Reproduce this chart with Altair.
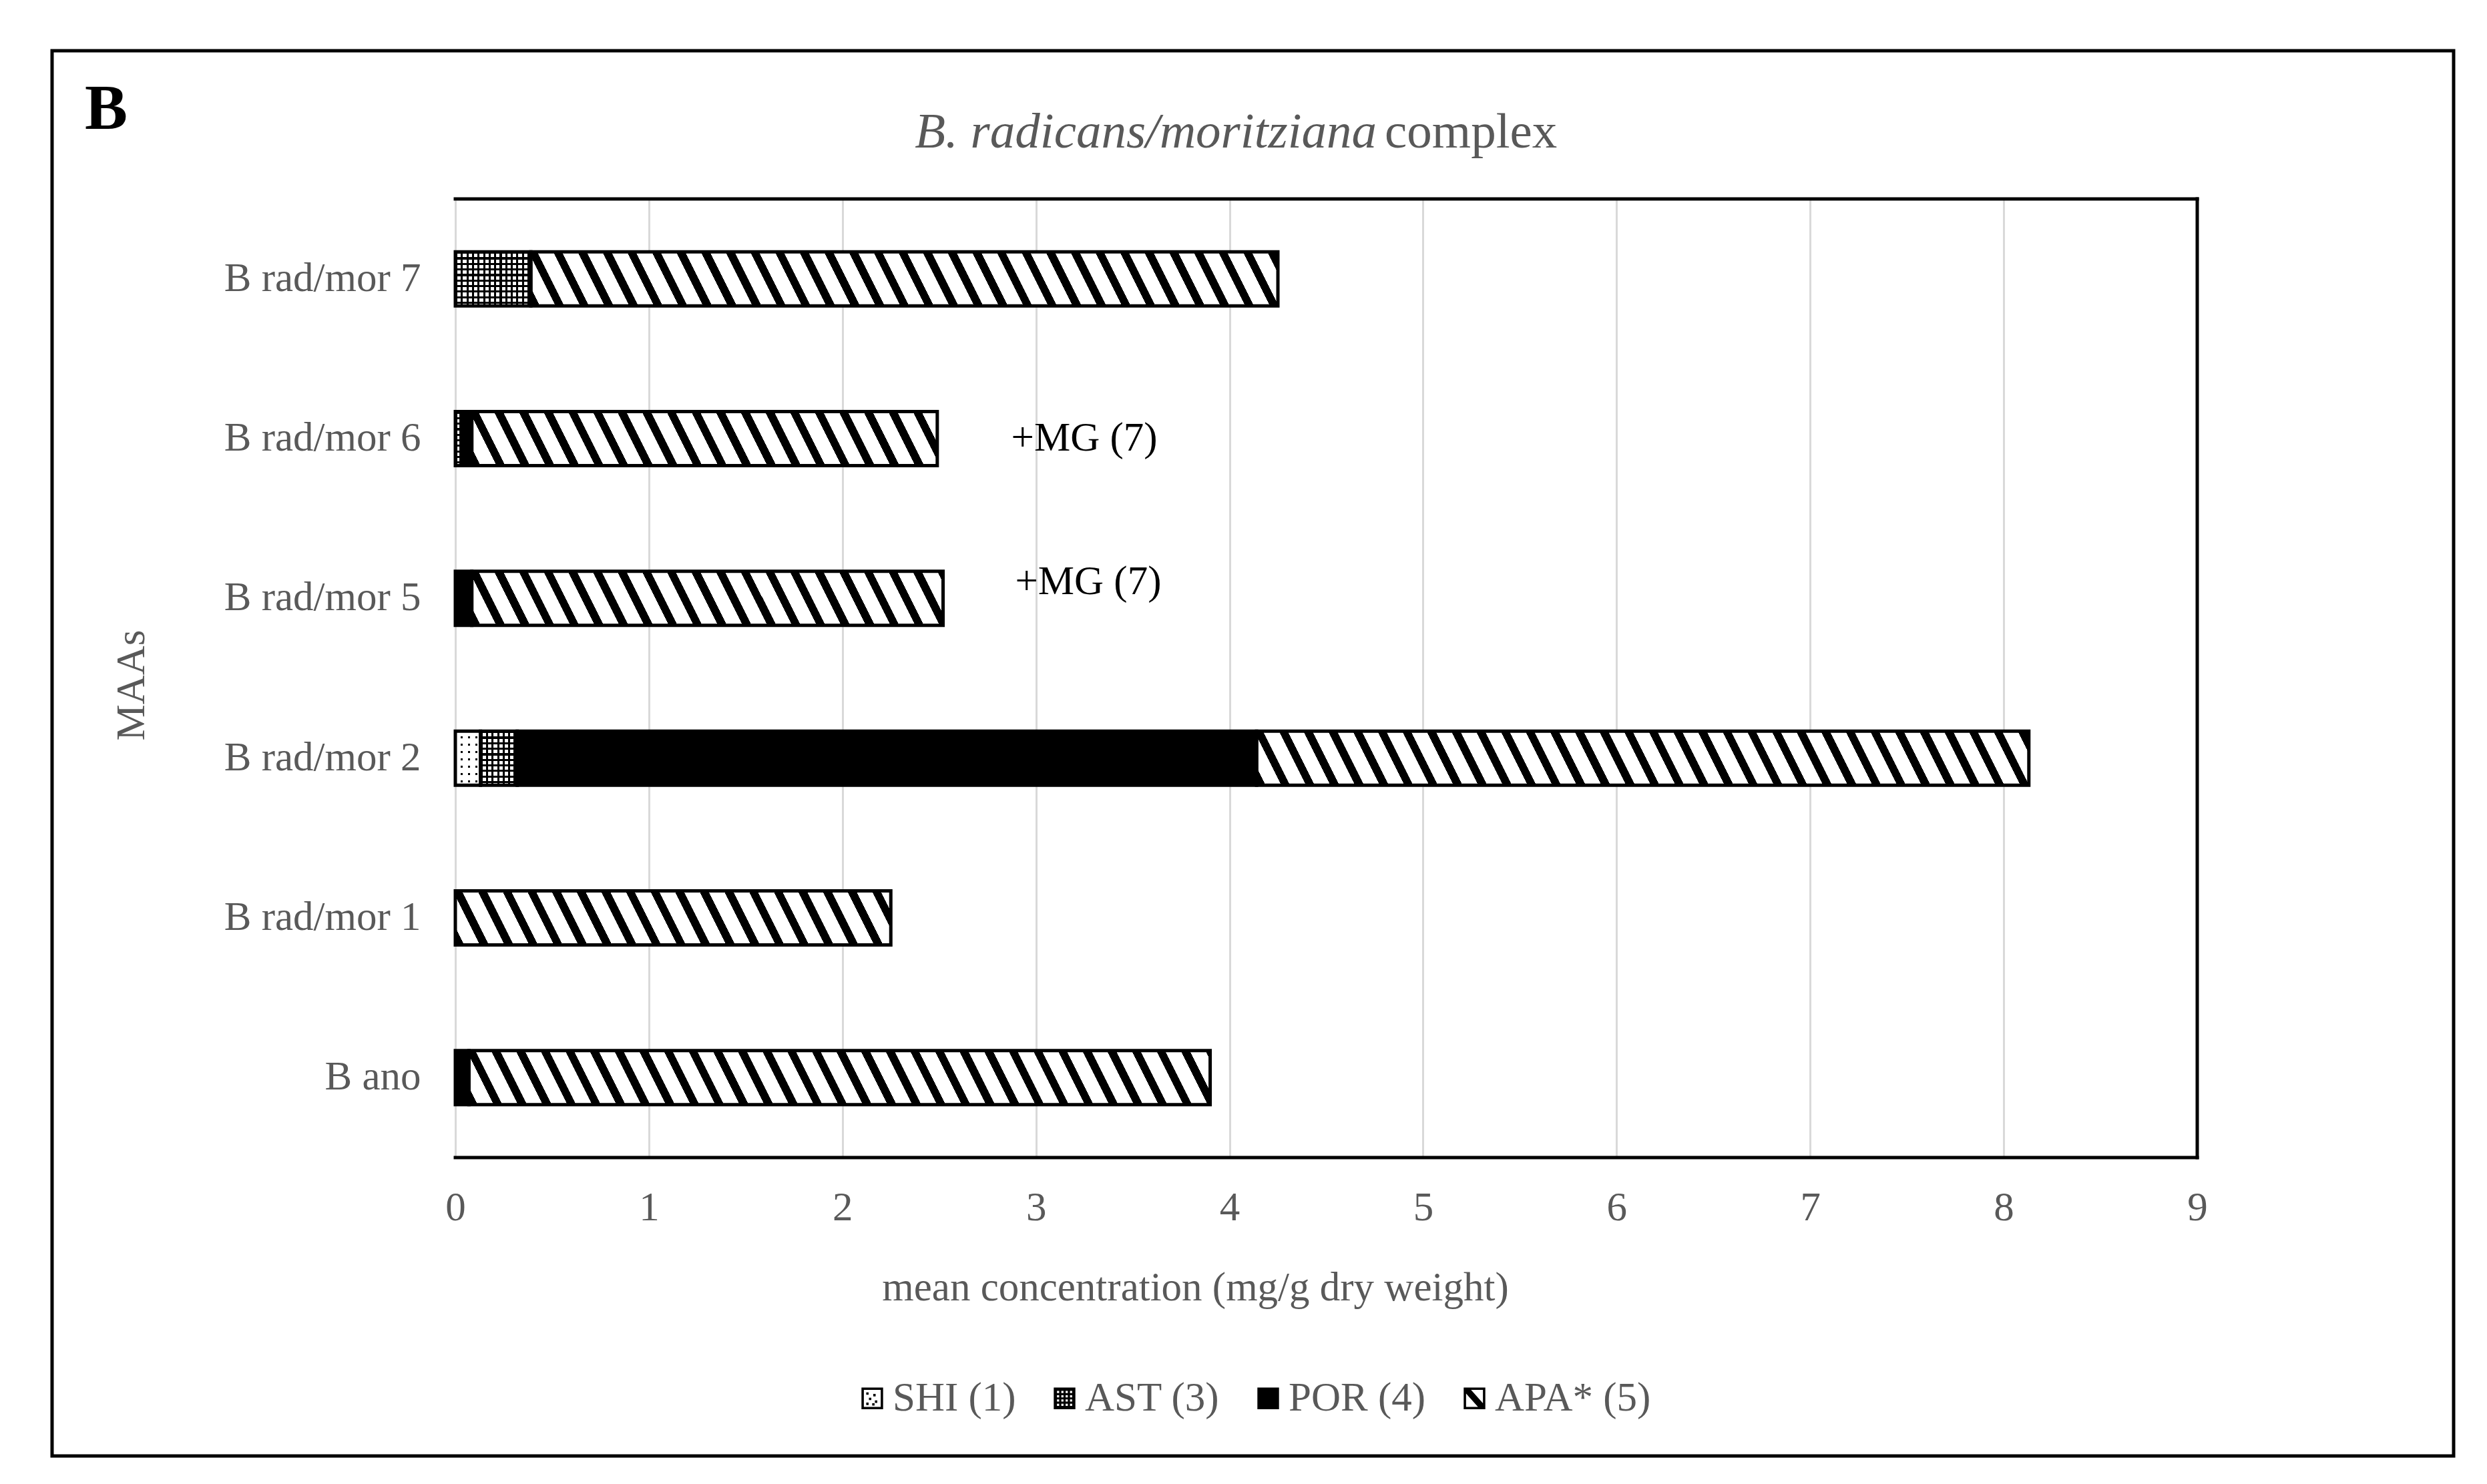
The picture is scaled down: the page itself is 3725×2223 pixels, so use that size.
import math
import altair as alt
import pandas as pd

# ---------------- data ----------------
samples = ["B ano", "B rad/mor 1", "B rad/mor 2", "B rad/mor 5", "B rad/mor 6", "B rad/mor 7"]
components = ["SHI (1)", "AST (3)", "POR (4)", "APA* (5)"]
shi = [0.0, 0.0, 0.13, 0.0, 0.0, 0.0]
ast = [0.0, 0.0, 0.19, 0.0, 0.03, 0.39]
por = [0.07, 0.0, 3.82, 0.085, 0.055, 0.0]
apa = [3.83, 2.25, 3.99, 2.435, 2.405, 3.86]
x_ticks = [0, 1, 2, 3, 4, 5, 6, 7, 8, 9]

mg_samples = ["B rad/mor 6", "B rad/mor 5"]
mg_x = [3.25, 3.27]
mg_labels = ["+MG (7)", "+MG (7)"]

panel_label = ["B"]
title_italic = ["B. radicans/moritziana"]
title_regular = ["complex"]
x_title = "mean concentration (mg/g dry weight)"
y_title = "MAAs"

# ---------------- layout / style ----------------
W, H = 2609, 1436
PAD = {"left": 674, "top": 290, "right": 426, "bottom": 481}
FONT = "Liberation Serif"
GRAY = "#595959"
FS = 61
P_INNER = 0.6616
P_OUTER = P_INNER / 2
BAR_H = H / len(samples) * (1 - P_INNER)
PX_PER_UNIT = W / 9.0

BLACK, WHITE, CLEAR = "#000000", "#ffffff", "rgba(255,255,255,0)"
SLOPE = 2.0          # stripe direction (1, SLOPE) in screen space
DIAG_PERIOD = 33.0   # perpendicular stripe period (px)
DIAG_FRAC = 0.36


def stripe_stops(n, frac, c_on, c_off):
    stops = []
    k = 0
    while k < n:
        a = round(k / n, 6)
        b = round(min((k + frac) / n, 1.0), 6)
        c = round(min((k + 1) / n, 1.0), 6)
        stops.append({"offset": a, "color": c_on})
        stops.append({"offset": b, "color": c_on})
        if b < 1.0:
            stops.append({"offset": b, "color": c_off})
            stops.append({"offset": c, "color": c_off})
        k += 1
    return stops


def diag_fill(w, h):
    s = SLOPE
    denom = s * w + h
    a, b = s / denom, -1.0 / denom
    q = a * a * w * w + b * b * h * h
    dx, dy = a * w / q, b * h / q
    n = (denom / math.sqrt(s * s + 1)) / DIAG_PERIOD
    return {"gradient": "linear", "x1": 0, "y1": 1, "x2": round(dx, 6), "y2": round(1 + dy, 6),
            "stops": stripe_stops(n, DIAG_FRAC, BLACK, WHITE)}


def vstripes(w, period, frac, on, off):
    return {"gradient": "linear", "x1": 0, "y1": 0, "x2": 1, "y2": 0,
            "stops": stripe_stops(max(w / period, 1.0), frac, on, off)}


def hstripes(h, period, frac, on, off):
    return {"gradient": "linear", "x1": 0, "y1": 0, "x2": 0, "y2": 1,
            "stops": stripe_stops(max(h / period, 1.0), frac, on, off)}


# ---------------- segments table ----------------
rows = []
for i, s in enumerate(samples):
    start = 0.0
    for comp, vals in zip(components, [shi, ast, por, apa]):
        v = vals[i]
        if v > 0:
            rows.append({"sample": s, "comp": comp, "x0": start, "x1": start + v, "seg": len(rows)})
            start += v
segs = pd.DataFrame(rows)

# ---------------- encodings ----------------
x_scale = alt.Scale(domain=[0, 9], nice=False, zero=True)
x_axis = alt.Axis(values=x_ticks, format="d", title=x_title, grid=True, gridColor="#d9d9d9",
                  gridWidth=3, ticks=False, domain=False, labelFlush=False,
                  labelFont=FONT, labelFontSize=FS, labelColor=GRAY, labelPadding=45,
                  titleFont=FONT, titleFontSize=FS, titleFontWeight="normal", titleColor=GRAY,
                  titleX=1108, titleY=195, titleBaseline="middle", titleAlign="center")
y_scale = alt.Scale(domain=samples[::-1], paddingInner=P_INNER, paddingOuter=P_OUTER)
y_axis = alt.Axis(title=y_title, ticks=False, domain=False, grid=False,
                  labelFont=FONT, labelFontSize=FS, labelColor=GRAY, labelPadding=52,
                  labelLimit=1000,
                  titleFont=FONT, titleFontSize=FS, titleFontWeight="normal", titleColor=GRAY,
                  titleX=-485, titleY=728, titleAngle=270, titleBaseline="middle",
                  titleAlign="center")


def X(field):
    return alt.X(field, type="quantitative", scale=x_scale, axis=x_axis)


Y = alt.Y("sample:N", scale=y_scale, axis=y_axis)
X2 = alt.X2("x1:Q")

base = alt.Chart(segs)


def seg_layer(seg_id, **mark_kw):
    return base.transform_filter(alt.datum.seg == seg_id).mark_bar(**mark_kw).encode(
        x=X("x0"), x2=X2, y=Y)


layers = []
for r in rows:
    w = (r["x1"] - r["x0"]) * PX_PER_UNIT
    comp = r["comp"]
    if comp == "APA* (5)":
        layers.append(seg_layer(r["seg"], fill=diag_fill(w, BAR_H)))
    elif comp == "POR (4)":
        layers.append(seg_layer(r["seg"], fill=BLACK))
    elif comp == "AST (3)":
        layers.append(seg_layer(r["seg"], fill=WHITE))
        layers.append(seg_layer(r["seg"], fill=vstripes(w, 8.3, 0.38, BLACK, CLEAR)))
        layers.append(seg_layer(r["seg"], fill=hstripes(BAR_H, 8.3, 0.38, BLACK, CLEAR)))
    elif comp == "SHI (1)":
        layers.append(seg_layer(r["seg"], fill=BLACK))
        layers.append(seg_layer(r["seg"], fill=vstripes(w, 11.0, 0.72, WHITE, CLEAR)))
        layers.append(seg_layer(r["seg"], fill=hstripes(BAR_H, 11.0, 0.72, WHITE, CLEAR)))

# outlines of every segment
layers.append(base.mark_bar(fillOpacity=0, stroke=BLACK, strokeWidth=5).encode(
    x=X("x0"), x2=X2, y=Y))

# +MG (7) annotations
mg_df = pd.DataFrame({"sample": mg_samples, "x": mg_x, "label": mg_labels})
for i, dy in enumerate([0, -24]):
    layers.append(alt.Chart(mg_df.iloc[[i]]).mark_text(
        font=FONT, fontSize=FS, color=BLACK, align="center", baseline="middle", dy=dy
    ).encode(x=X("x"), y=Y, text="label:N"))

# plot-area border (top, right, bottom)
one = pd.DataFrame({"k": [0]})
rule = alt.Chart(one).mark_rule(color=BLACK, strokeWidth=5, strokeCap="square")
layers.append(rule.encode(x=alt.value(0), x2=alt.value(W), y=alt.value(0)))
layers.append(rule.encode(x=alt.value(0), x2=alt.value(W), y=alt.value(H)))
layers.append(rule.encode(x=alt.value(W), y=alt.value(0), y2=alt.value(H)))

# outer figure frame
layers.append(alt.Chart(one).mark_rect(fillOpacity=0, stroke=BLACK, strokeWidth=5).encode(
    x=alt.value(-604), x2=alt.value(2993), y=alt.value(-222), y2=alt.value(1883)))

# titles
layers.append(alt.Chart(pd.DataFrame({"t": panel_label})).mark_text(
    font=FONT, fontSize=96, fontWeight="bold", color=BLACK, align="left", baseline="alphabetic"
).encode(x=alt.value(-555), y=alt.value(-105), text="t:N"))
layers.append(alt.Chart(pd.DataFrame({"t": title_italic})).mark_text(
    font=FONT, fontSize=75, fontStyle="italic", color=GRAY, align="right", baseline="alphabetic"
).encode(x=alt.value(1380), y=alt.value(-77), text="t:N"))
layers.append(alt.Chart(pd.DataFrame({"t": title_regular})).mark_text(
    font=FONT, fontSize=75, color=GRAY, align="left", baseline="alphabetic"
).encode(x=alt.value(1392), y=alt.value(-77), text="t:N"))

# legend (custom pattern-like symbols)
outer = "M-1,-1H1V1H-1Z"
hole = "M-0.78,-0.78V0.78H0.78V-0.78Z"


def sq(cx, cy, r, ccw=False):
    if ccw:
        return f"M{cx-r},{cy-r}V{cy+r}H{cx+r}V{cy-r}Z"
    return f"M{cx-r},{cy-r}H{cx+r}V{cy+r}H{cx-r}Z"


shi_path = outer + hole + "".join(sq(cx, cy, 0.11) for cx, cy in
                                  [(-0.45, -0.45), (0.2, -0.3), (-0.2, 0.05), (0.35, 0.3), (-0.45, 0.5), (0.1, 0.55)])
ast_path = outer + "".join(sq(-0.6 + 0.4 * i, -0.6 + 0.4 * j, 0.1, ccw=True)
                           for i in range(4) for j in range(4))
por_path = outer
apa_path = outer + hole + "M-0.78,-0.78L-0.32,-0.78L0.78,0.45L0.78,0.78L0.32,0.78L-0.78,-0.45Z"
shape_paths = [shi_path, ast_path, por_path, apa_path]

legend = alt.Legend(title=None, orient="none", legendX=594, legendY=1766, direction="horizontal",
                    symbolSize=1050, symbolFillColor=BLACK, symbolStrokeWidth=0, symbolOpacity=1,
                    labelFont=FONT, labelFontSize=FS, labelColor=GRAY, labelOffset=0,
                    labelLimit=1000, columnPadding=42, padding=0)
layers.append(base.mark_point(filled=True, color=BLACK, opacity=0).encode(
    x=X("x1"), y=Y,
    shape=alt.Shape("comp:N", scale=alt.Scale(domain=components, range=shape_paths), legend=legend)))

chart = alt.layer(*layers).properties(
    width=W, height=H, padding=PAD, autosize=alt.AutoSizeParams(type="none"),
    background="white"
).configure_view(stroke=None)

chart.save("out.html", embed_options={"renderer": "svg", "actions": False})
